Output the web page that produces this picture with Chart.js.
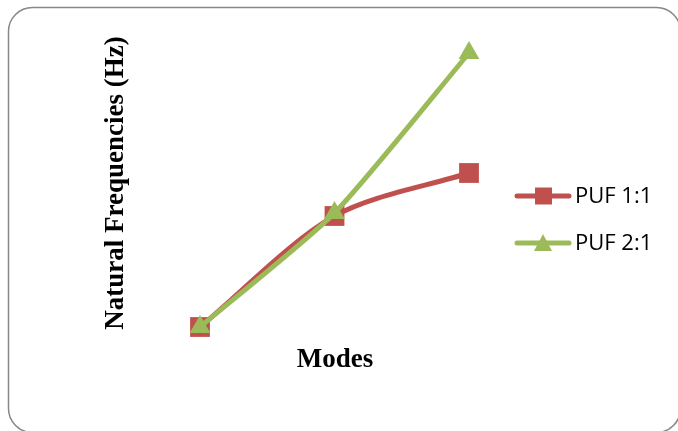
<!DOCTYPE html>
<html>
<head>
<meta charset="utf-8">
<script src="https://cdn.jsdelivr.net/npm/chart.js@4"></script>
<style>
  html, body { margin: 0; padding: 0; background: #fff; }
  canvas { display: block; }
</style>
</head>
<body>
<canvas id="chart" width="678" height="431"></canvas>
<script>
// Natural frequencies per mode (axis hidden in the original, values estimated)
const modes     = ['1', '2', '3'];
const puf11     = [13, 124, 167];
const puf21     = [13, 127, 287];
const yTitle    = 'Natural Frequencies (Hz)';
const xTitle    = 'Modes';

const RED   = '#C0504D';
const GREEN = '#9BBB59';

// frame, axis titles and the line+marker legend that Chart.js can't do natively
const decorPlugin = {
    id: 'decor',
    afterDraw(chart) {
        const ctx = chart.ctx;
        ctx.save();

        // rounded frame
        ctx.strokeStyle = '#878787';
        ctx.lineWidth = 1.5;
        ctx.beginPath();
        ctx.roundRect(8.5, 7.5, 672, 425, 24);
        ctx.stroke();

        // axis titles
        ctx.fillStyle = '#000';
        ctx.font = 'bold 27px "Liberation Serif"';
        ctx.textAlign = 'center';
        ctx.textBaseline = 'middle';
        ctx.fillText(xTitle, 335, 360);
        ctx.translate(116, 183);
        ctx.rotate(-Math.PI / 2);
        ctx.fillText(yTitle, 0, 0);
        ctx.restore();

        // legend
        ctx.save();
        chart.data.datasets.forEach((ds, i) => {
            const y = 196 + i * 47;
            ctx.strokeStyle = ds.borderColor;
            ctx.lineWidth = 5;
            ctx.lineCap = 'round';
            ctx.beginPath();
            ctx.moveTo(517, y);
            ctx.lineTo(569, y);
            ctx.stroke();
            ctx.fillStyle = ds.backgroundColor;
            ctx.beginPath();
            if (ds.pointStyle === 'rect') {
                ctx.rect(535, y - 8.5, 17, 17);
            } else {
                ctx.moveTo(543, y - 9);
                ctx.lineTo(552, y + 8);
                ctx.lineTo(534, y + 8);
                ctx.closePath();
            }
            ctx.fill();
            ctx.fillStyle = '#000';
            ctx.font = '22px "Open Sans"';
            ctx.textAlign = 'left';
            ctx.textBaseline = 'middle';
            ctx.fillText(ds.label, 575, y + 1);
        });
        ctx.restore();
    }
};

new Chart(document.getElementById('chart'), {
    type: 'line',
    data: {
        labels: modes,
        datasets: [
            {
                label: 'PUF 1:1',
                data: puf11,
                order: 1,
                borderColor: RED,
                backgroundColor: RED,
                borderWidth: 5,
                tension: 0.3,
                pointStyle: 'rect',
                pointRadius: 14,
                pointBorderWidth: 0,
                clip: false,
            },
            {
                label: 'PUF 2:1',
                data: puf21,
                order: 0,
                borderColor: GREEN,
                backgroundColor: GREEN,
                borderWidth: 5,
                tension: 0.2,
                pointStyle: 'triangle',
                pointRadius: 12,
                pointBorderWidth: 0,
                clip: false,
            },
        ],
    },
    options: {
        responsive: false,
        animation: false,
        layout: { padding: { left: 200, right: 209, top: 40, bottom: 91 } },
        plugins: {
            legend: { display: false },
            tooltip: { enabled: false },
        },
        scales: {
            x: { display: false },
            y: { display: false, min: 0, max: 300 },
        },
    },
    plugins: [decorPlugin],
});
</script>
</body>
</html>
